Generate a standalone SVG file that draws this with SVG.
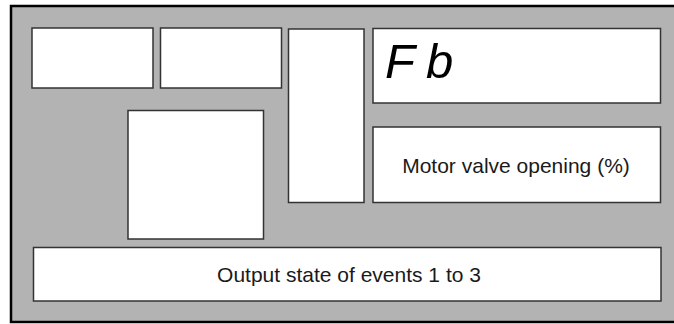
<svg xmlns="http://www.w3.org/2000/svg" width="674" height="324" viewBox="0 0 674 324">
<style>
.box{fill:#ffffff;stroke:#333333;stroke-width:1.5}
.lbl{font-family:"Liberation Sans",Arial,sans-serif;font-size:21px;fill:#1a1a1a;text-anchor:middle}
.seg{font-family:"Liberation Sans",Arial,sans-serif;font-size:49px;font-style:italic;fill:#000000}
</style>
<rect x="0" y="0" width="674" height="324" fill="#ffffff"/>
<g id="frame"><rect x="11" y="6" width="680" height="316" fill="#b3b3b3" stroke="#000000" stroke-width="2.5"/></g>
<g id="box1"><rect class="box" x="32" y="28" width="121" height="60"/></g>
<g id="box2"><rect class="box" x="160.5" y="28" width="121" height="60"/></g>
<g id="box3"><rect class="box" x="288.5" y="29" width="75.5" height="173.5"/></g>
<g id="fb"><rect class="box" x="373" y="28.5" width="287.5" height="74.5"/><text class="seg" x="385" y="78">F</text><text class="seg" x="426" y="78">b</text></g>
<g id="motor"><rect class="box" x="373" y="127" width="287.5" height="75.5"/><text class="lbl" x="516" y="173">Motor valve opening (%)</text></g>
<g id="square"><rect class="box" x="128" y="110.5" width="135.5" height="128.5"/></g>
<g id="events"><rect class="box" x="33.5" y="247.5" width="627.5" height="53.5"/><text class="lbl" x="349" y="281.5">Output state of events 1 to 3</text></g>
<g id="connectors"></g>
</svg>
